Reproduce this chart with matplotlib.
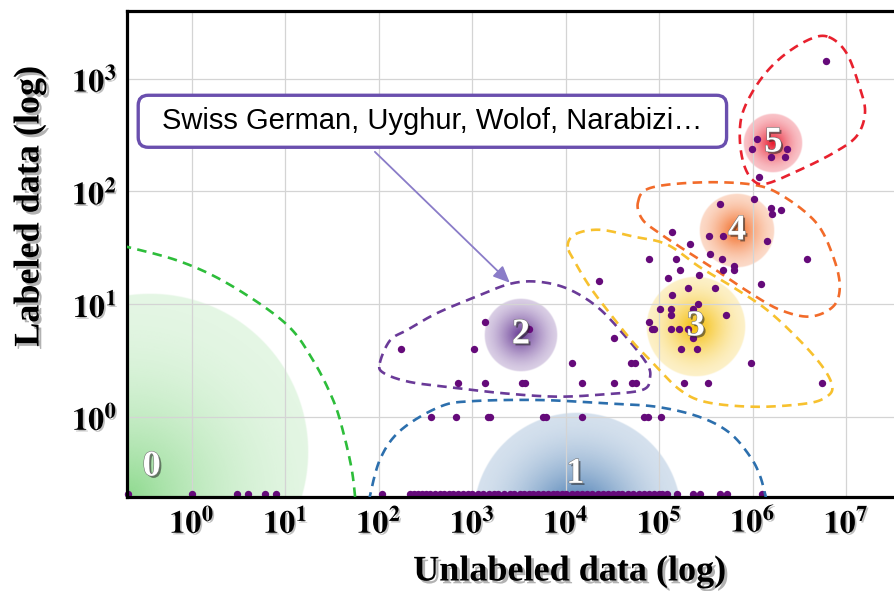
import numpy as np
import matplotlib
matplotlib.use("Agg")
import matplotlib.pyplot as plt
import matplotlib.patheffects as pe
from matplotlib.colors import to_rgb
from matplotlib.patches import FancyBboxPatch
from matplotlib.transforms import IdentityTransform
from matplotlib.ticker import FixedLocator, FuncFormatter, NullLocator

plt.rcParams["mathtext.fontset"] = "stix"

# languages with no labeled data (unlabeled count only)
no_label_unlabeled = [
    0, 1, 3, 4, 6, 8, 107,
    215, 240, 260, 290, 320, 350, 400, 450, 500, 560, 620, 700, 800, 900,
    1000, 1150, 1300, 1500, 1700, 1900, 2200, 2500, 2800, 3200, 3600, 4000,
    4500, 5000, 5700, 6400, 7200, 8000, 9000, 10000, 11500, 13000, 15000,
    17000, 19000, 22000, 25000, 28000, 32000, 36000, 40000, 46000, 52000,
    60000, 68000, 77000, 88000, 100000, 107000,
    120000, 155000, 229000, 269000, 447000, 525000, 1260000,
]

# languages with some labeled data
unlabeled = [
    363, 660, 1480, 1550, 5750, 6170, 14800, 69000, 76000, 105000,
    708, 1350, 3390, 3630, 14800, 32400, 51300, 56200, 182000, 331000, 5500000,
    11500, 50100, 55000, 955000,
    174, 1050, 170000, 251000,
    32400, 229000,
    4070, 83000, 87000, 132000, 162000, 204000,
    1380, 77600,
    132000, 513000,
    102000, 132000, 229000,
    257000, 138000, 204000, 398000, 22400, 1230000, 123000, 263000,
    166000, 479000, 631000, 631000,
    77600, 151000, 468000, 3800000,
    347000, 214000, 1410000, 339000, 479000, 138000,
    1620000, 2000000, 1580000, 447000, 1020000, 1170000,
    1580000, 2190000, 977000, 2340000, 1100000, 6000000,
]
labeled = [
    1, 1, 1, 1, 1, 1, 1, 1, 1, 1,
    2, 2, 2, 2, 2, 2, 2, 2, 2, 2, 2,
    3, 3, 3, 3,
    4, 4, 4, 4,
    5, 5,
    6, 6, 6, 6, 6, 6,
    7, 7,
    8, 8,
    9, 9, 9,
    10, 12, 14, 14, 16, 15, 17, 18,
    20, 20, 20, 22,
    25, 25, 25, 25,
    28, 34, 36, 40, 40, 44,
    63, 69, 72, 78, 85, 135,
    200, 200, 240, 240, 290, 1440,
]

# cluster ids, centres (unlabeled, labeled) and where the number sits
cluster_ids = ["0", "1", "2", "3", "4", "5"]
cluster_x = [0.356, 13100, 3300, 245000, 676000, 1660000]
cluster_y = [0.489, 0.132, 5.35, 6.3, 44.7, 269]
cluster_label_x = [0.37, 12600, 3300, 245000, 676000, 1660000]
cluster_label_y = [0.36, 0.31, 5.35, 6.3, 44.7, 269]

# cluster outlines in decades (log10 unlabeled, log10 labeled)
outline_0 = [(-0.75, 1.52), (-0.13, 1.38), (0.41, 1.17), (1.0, 0.83), (1.29, 0.51),
             (1.51, 0.15), (1.62, -0.14), (1.71, -0.47), (1.75, -0.75)]
outline_1 = [(1.89, -0.75), (2.01, -0.38), (2.23, -0.12), (2.65, 0.09), (3.0, 0.14),
             (3.72, 0.15), (4.44, 0.12), (4.97, 0.09), (5.43, 0.0), (5.75, -0.14),
             (5.97, -0.35), (6.08, -0.53), (6.15, -0.75)]
outline_2 = [(2.01, 0.48), (2.12, 0.68), (2.30, 0.77), (2.62, 0.92), (3.05, 1.07),
             (3.40, 1.18), (3.69, 1.20), (4.01, 1.14), (4.33, 0.98), (4.61, 0.74),
             (4.86, 0.48), (4.90, 0.35), (4.82, 0.24), (4.40, 0.20), (3.90, 0.18),
             (3.33, 0.21), (2.80, 0.26), (2.33, 0.31), (2.05, 0.39)]
outline_3 = [(4.02, 1.51), (4.10, 1.62), (4.36, 1.66), (4.72, 1.60), (5.08, 1.53),
             (5.43, 1.33), (5.79, 1.15), (6.15, 0.95), (6.50, 0.68), (6.75, 0.44),
             (6.85, 0.27), (6.79, 0.18), (6.58, 0.12), (6.04, 0.09), (5.51, 0.13),
             (5.22, 0.24), (4.93, 0.48), (4.72, 0.66), (4.44, 0.95), (4.26, 1.15),
             (4.12, 1.34)]
outline_4 = [(4.77, 1.90), (4.90, 2.03), (5.43, 2.08), (6.0, 2.06), (6.32, 1.96),
             (6.68, 1.72), (6.86, 1.42), (6.93, 1.16), (6.86, 0.98), (6.61, 0.89),
             (6.29, 0.95), (5.97, 1.10), (5.61, 1.30), (5.29, 1.47), (5.0, 1.63),
             (4.82, 1.75)]
outline_5 = [(6.81, 3.37), (7.0, 3.23), (7.14, 2.93), (7.20, 2.70), (7.11, 2.49),
             (6.86, 2.34), (6.50, 2.19), (6.15, 2.07), (6.0, 2.10), (5.90, 2.25),
             (5.86, 2.49), (5.90, 2.72), (6.08, 2.99), (6.32, 3.20), (6.61, 3.35)]

note_text = "Swiss German, Uyghur, Wolof, Narabizi\u2026"
note_pos = (10 ** 2.572, 10 ** 2.622)
note_arrow_from = (10 ** 1.957, 10 ** 2.351)
note_arrow_to = (10 ** 3.40, 10 ** 1.19)

# styling
cluster_colors = ["#4cc44c", "#2a66a6", "#633492", "#f5bc00", "#f2641a", "#e8162a"]
outline_colors = ["#2dbd3a", "#2c6fad", "#6a3a98", "#f7c12e", "#f26b2a", "#e8212e"]
blob_radius = [158, 104, 37, 50, 37.5, 30]          # px
blob_alpha = [(0.15, 0.62), (0.2, 1.0), (0.24, 1.0),
              (0.22, 1.0), (0.24, 1.0), (0.26, 1.0)]
blob_power = [2.0, 1.8, 1.5, 1.6, 1.6, 1.6]
blob_focus = [(-0.13, -0.27), (0, 0), (0, 0), (0, 0), (0, 0), (0, 0)]
dot_color = "#650a7a"
dot_size = 28

xlim = (10 ** -0.695, 10 ** 7.51)
ylim = (10 ** -0.71, 10 ** 3.60)
floor_x = 10 ** -0.68
floor_y = 10 ** -0.68

W, H = 894, 591
rect = [127 / W, 1 - 497 / H, (W - 127) / W, (497 - 11) / H]


def smooth(pts, closed, n=24):
    """Catmull-Rom curve through the outline vertices."""
    P = np.asarray(pts, float)
    if closed:
        P = np.vstack([P[-1], P, P[0], P[1]])
    else:
        P = np.vstack([P[0], P, P[-1]])
    t = np.linspace(0, 1, n, endpoint=False)[:, None]
    segs = []
    for i in range(1, len(P) - 2):
        p0, p1, p2, p3 = P[i - 1], P[i], P[i + 1], P[i + 2]
        segs.append(0.5 * (2 * p1 + (-p0 + p2) * t
                           + (2 * p0 - 5 * p1 + 4 * p2 - p3) * t ** 2
                           + (-p0 + 3 * p1 - 3 * p2 + p3) * t ** 3))
    segs.append(P[-2][None])
    return np.vstack(segs)


fig = plt.figure(figsize=(W / 100, H / 100), dpi=100)

# glow blobs live on a linear axes in decades underneath the log axes
gx = fig.add_axes(rect)
gx.set_zorder(0)
gx.axis("off")
lxlim = np.log10(xlim)
lylim = np.log10(ylim)
ppd_x = rect[2] * W / (lxlim[1] - lxlim[0])
ppd_y = rect[3] * H / (lylim[1] - lylim[0])

for i in range(len(cluster_ids)):
    r = blob_radius[i]
    cx, cy = np.log10(cluster_x[i]), np.log10(cluster_y[i])
    rx, ry = r / ppd_x, r / ppd_y
    n = int(4 * r) + 1
    u = np.linspace(-1, 1, n)
    U, V = np.meshgrid(u, u)
    d = np.hypot(U, V)
    fu, fv = blob_focus[i]
    df = np.hypot(U - fu, V - fv) / (1 + np.hypot(fu, fv))
    t = np.clip(1 - df, 0, 1)
    a_edge, a_core = blob_alpha[i]
    alpha = (a_edge + (a_core - a_edge) * t ** blob_power[i]) * np.clip((1 - d) * r, 0, 1)
    img = np.zeros((n, n, 4))
    img[..., :3] = to_rgb(cluster_colors[i])
    img[..., 3] = alpha
    gx.imshow(img, extent=(cx - rx, cx + rx, cy - ry, cy + ry), origin="lower",
              interpolation="bilinear", aspect="auto")
gx.set_xlim(lxlim)
gx.set_ylim(lylim)

ax = fig.add_axes(rect)
ax.set_zorder(1)
ax.patch.set_visible(False)
ax.set_xscale("log")
ax.set_yscale("log")
ax.set_xlim(xlim)
ax.set_ylim(ylim)

ax.grid(True, color="#d4d4d4", lw=0.9, zorder=0)
ax.set_axisbelow(True)

# outlines
outlines = [outline_0, outline_1, outline_2, outline_3, outline_4, outline_5]
for i, ol in enumerate(outlines):
    c = smooth(ol, closed=i >= 2)
    ax.plot(10 ** c[:, 0], 10 ** c[:, 1], color=outline_colors[i], lw=1.9,
            ls=(0, (3.6, 2.4)), zorder=3)

# points
nx = np.array(no_label_unlabeled, float)
nx[nx <= 0] = floor_x
ax.scatter(nx, np.full(len(nx), floor_y), s=dot_size, color=dot_color, lw=0,
           zorder=2.2, clip_on=False)
ax.scatter(unlabeled, labeled, s=dot_size, color=dot_color, lw=0, zorder=4)

# cluster numbers
num_fx = [pe.SimplePatchShadow(offset=(1.5, -1.5), shadow_rgbFace="#222", alpha=0.55),
          pe.Stroke(linewidth=0.8, foreground="#777"), pe.Normal()]
for i, cid in enumerate(cluster_ids):
    ax.text(cluster_label_x[i], cluster_label_y[i], cid, ha="center", va="center",
            fontsize=26, fontweight="bold", family="Liberation Serif",
            color="white", zorder=5, path_effects=num_fx)

# callout
ax.annotate("", xy=note_arrow_to, xytext=note_arrow_from,
            arrowprops=dict(arrowstyle="-|>,head_length=0.5,head_width=0.22",
                            color="#8a7cc8", lw=1.3, mutation_scale=20,
                            shrinkA=0, shrinkB=0), zorder=5)
note = ax.text(*note_pos, note_text, ha="center", va="center", fontsize=21,
               family="Liberation Sans", color="black", zorder=7)

# ticks
ax.xaxis.set_major_locator(FixedLocator([10.0 ** k for k in range(0, 8)]))
ax.yaxis.set_major_locator(FixedLocator([10.0 ** k for k in range(0, 4)]))
ax.xaxis.set_minor_locator(NullLocator())
ax.yaxis.set_minor_locator(NullLocator())
fmt = FuncFormatter(lambda v, pos: r"$\mathbf{10^{%d}}$" % round(np.log10(v)))
ax.xaxis.set_major_formatter(fmt)
ax.yaxis.set_major_formatter(fmt)
ax.tick_params(length=0, labelsize=23, colors="black")
ax.tick_params(axis="x", pad=7)
ax.tick_params(axis="y", pad=7)

for side in ["left", "top", "bottom"]:
    ax.spines[side].set_linewidth(2.3)
    ax.spines[side].set_color("black")
ax.spines["right"].set_visible(False)

label_fx = [pe.SimplePatchShadow(offset=(2, -2), shadow_rgbFace="#000", alpha=0.3),
            pe.Normal()]
ax.set_xlabel("Unlabeled data (log)", fontsize=26, fontweight="bold",
              family="Liberation Serif", path_effects=label_fx, va="center")
ax.set_ylabel("Labeled data (log)", fontsize=26, fontweight="bold",
              family="Liberation Serif", path_effects=label_fx, va="center")
ax.xaxis.set_label_coords((570 - 127) / 767, (497 - 572) / 486)
ax.yaxis.set_label_coords((30 - 127) / 767, (497 - 206) / 486)

fig.canvas.draw()
tick_fx = [pe.SimplePatchShadow(offset=(1.2, -1.2), shadow_rgbFace="#000", alpha=0.25),
           pe.Normal()]
for lbl in ax.get_xticklabels() + ax.get_yticklabels():
    lbl.set_path_effects(tick_fx)

# rounded box around the callout text
bb = note.get_window_extent()
padx, pady = 24, 12
box = FancyBboxPatch((bb.x0 - padx, bb.y0 - pady), bb.width + 2 * padx,
                     bb.height + 2 * pady, boxstyle="round,pad=0,rounding_size=10",
                     transform=IdentityTransform(), fc="white", ec="#6a4fae",
                     lw=2.4, zorder=6, clip_on=False)
ax.add_artist(box)

fig.savefig("out.png", dpi=100)
